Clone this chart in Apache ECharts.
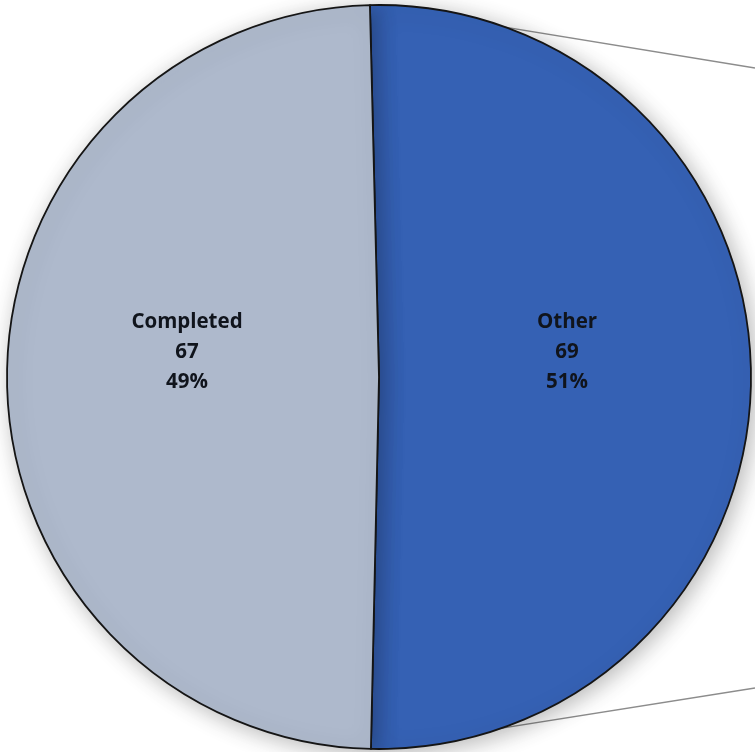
<!DOCTYPE html>
<html>
<head>
<meta charset="utf-8">
<script src="https://cdn.jsdelivr.net/npm/echarts@6/dist/echarts.min.js"></script>
<style>
  html, body { margin: 0; padding: 0; background: #ffffff; }
  #chart { width: 755px; height: 752px; }
</style>
</head>
<body>
<div id="chart"></div>
<script>
// Slice categories and counts (drawn clockwise from the top)
const categories = ['Other', 'Completed'];
const values = [69, 67];
const colors = ['#3561B4', '#AEB9CC'];

// Pie geometry
const cx = 379, cy = 377, radius = 372;
const startAngle = 91.4;

// Where the "Other" slice begins and ends on the rim
const total = values.reduce((a, b) => a + b, 0);
const endAngle = startAngle - 360 * values[0] / total;
function rim(angleDeg) {
  const a = angleDeg * Math.PI / 180;
  return [cx + radius * Math.cos(a), cy - radius * Math.sin(a)];
}
const topPt = rim(startAngle);
const botPt = rim(endAngle);

const chart = echarts.init(document.getElementById('chart'), null, { renderer: 'canvas' });

chart.setOption({
  backgroundColor: '#ffffff',
  animation: false,
  graphic: [
    {
      type: 'line', z: -1, silent: true,
      shape: { x1: topPt[0], y1: topPt[1], x2: 755, y2: 68 },
      style: { stroke: '#8c8c8c', lineWidth: 1.3 }
    },
    {
      type: 'line', z: -1, silent: true,
      shape: { x1: botPt[0], y1: botPt[1], x2: 755, y2: 688 },
      style: { stroke: '#8c8c8c', lineWidth: 1.3 }
    }
  ],
  series: [{
    type: 'pie',
    center: [cx, cy],
    radius: radius,
    startAngle: startAngle,
    clockwise: true,
    percentPrecision: 0,
    z: 2,
    itemStyle: {
      borderColor: '#151515',
      borderWidth: 1.8,
      shadowBlur: 22,
      shadowColor: 'rgba(0,0,0,0.28)',
      shadowOffsetX: 4,
      shadowOffsetY: 4
    },
    label: {
      show: true,
      position: 'inside',
      formatter: '{b}\n{c}\n{d}%',
      fontFamily: 'Open Sans, sans-serif',
      fontWeight: 'bold',
      fontSize: 20.5,
      lineHeight: 30,
      color: '#10141c'
    },
    labelLine: { show: false },
    emphasis: { disabled: true },
    data: categories.map((name, i) => ({
      name: name,
      value: values[i],
      itemStyle: { color: colors[i] },
      label: { offset: i === 0 ? [-1, -25] : [-3, -25] }
    }))
  }]
});
</script>
</body>
</html>
